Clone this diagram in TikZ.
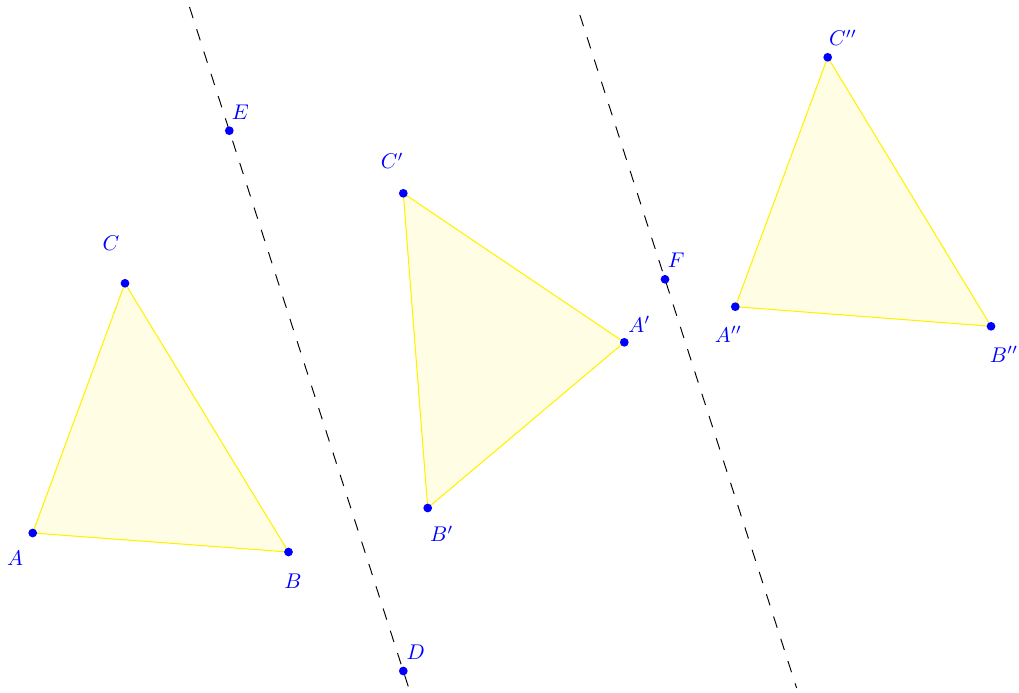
\documentclass[tikz,border=0pt]{standalone}
\begin{document}
\begin{tikzpicture}[x=0.47pt,y=-0.47pt,
  pt/.style={circle,fill=blue,inner sep=0pt,minimum size=4.1pt},
  lbl/.style={text=blue,inner sep=0pt},
  tri/.style={draw=yellow,line width=0.5pt,fill=yellow,fill opacity=0.1},
  axis/.style={draw=black,line width=0.45pt,dash pattern=on 5.5pt off 5.5pt}]
\useasboundingbox (0,0) rectangle (1019,693);
% points
\coordinate (A) at (32.7,533);
\coordinate (B) at (288.5,552);
\coordinate (C) at (125,283.3);
\coordinate (A1) at (624.3,342.3);
\coordinate (B1) at (427.7,508);
\coordinate (C1) at (403.3,193.3);
\coordinate (A2) at (735.3,306.7);
\coordinate (B2) at (991,326.3);
\coordinate (C2) at (827.7,57.3);
\coordinate (E) at (229.3,130.7);
\coordinate (D) at (403.3,671);
\coordinate (F) at (665,279.3);
\coordinate (L1s) at (189.5,7);
\coordinate (L1e) at (409.4,690);
\coordinate (L2s) at (579.9,15);
\coordinate (L2e) at (796.6,688);
% triangles
\path[tri] (A) -- (B) -- (C) -- cycle;
\path[tri] (A1) -- (B1) -- (C1) -- cycle;
\path[tri] (A2) -- (B2) -- (C2) -- cycle;
% axes
\draw[axis] (L1s) -- (L1e);
\draw[axis] (L2s) -- (L2e);
% dots
\foreach \p in {A,B,C,A1,B1,C1,A2,B2,C2,E,D,F}
  \node[pt] (d\p) at (\p) {};
% labels
\node[lbl] (lA) at (15,558.3) {$A$};
\node[lbl] (lB) at (293,581) {$B$};
\node[lbl] (lC) at (111,243) {$C$};
\node[lbl] (lA1) at (639.3,324.5) {$A'$};
\node[lbl] (lB1) at (441.7,534) {$B'$};
\node[lbl] (lC1) at (392.3,161) {$C'$};
\node[lbl] (lA2) at (728.3,334.5) {$A''$};
\node[lbl] (lB2) at (1004,354.5) {$B''$};
\node[lbl] (lC2) at (843,38) {$C''$};
\node[lbl] (lE) at (240.3,112) {$E$};
\node[lbl] (lD) at (415.7,652) {$D$};
\node[lbl] (lF) at (676.3,260.5) {$F$};
\end{tikzpicture}
\end{document}
